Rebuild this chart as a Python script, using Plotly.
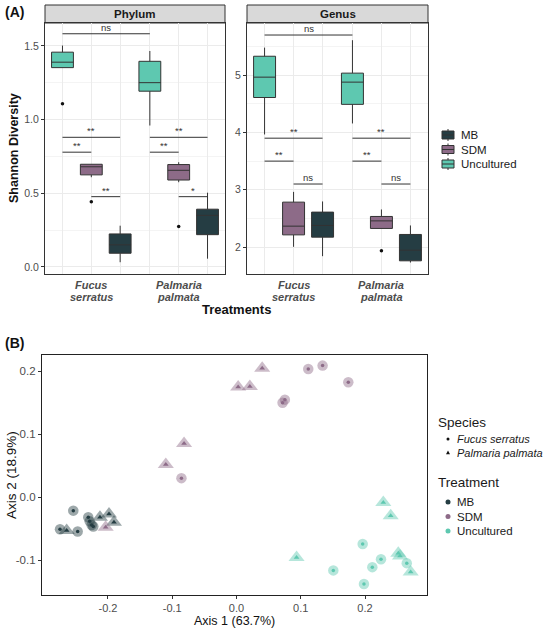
import plotly.graph_objects as go

# ---------------- DATA ----------------
treatments = ["Uncultured", "SDM", "MB"]          # dodge order left->right
legend_order = ["MB", "SDM", "Uncultured"]
species = ["Fucus serratus", "Palmaria palmata"]
colors = {"MB": "#253d43", "SDM": "#8d6b88", "Uncultured": "#5ec8b0"}

# box stats per treatment, per species: [lowerfence, q1, median, q3, upperfence]
phylum_stats = {
    "Uncultured": [[1.353, 1.353, 1.39, 1.458, 1.503], [0.96, 1.193, 1.251, 1.396, 1.466]],
    "SDM": [[0.609, 0.625, 0.68, 0.697, 0.697], [0.575, 0.59, 0.656, 0.695, 0.711]],
    "MB": [[0.032, 0.093, 0.15, 0.224, 0.28], [0.056, 0.219, 0.35, 0.392, 0.504]],
}
phylum_outliers = {"Uncultured": [[1.107], []], "SDM": [[0.443], [0.274]], "MB": [[], []]}

genus_stats = {
    "Uncultured": [[3.965, 4.61, 4.965, 5.33, 5.48], [4.157, 4.49, 4.878, 5.035, 5.61]],
    "SDM": [[2.004, 2.213, 2.365, 2.784, 2.963], [2.325, 2.325, 2.457, 2.534, 2.656]],
    "MB": [[1.841, 2.173, 2.377, 2.61, 2.796], [1.73, 1.76, 1.946, 2.22, 2.377]],
}
genus_outliers = {"Uncultured": [[], []], "SDM": [[], [1.934]], "MB": [[], []]}

# comparisons: (species1, treatment1, species2, treatment2, y, label)
phylum_comparisons = [
    (0, "Uncultured", 1, "Uncultured", 1.583, "ns"),
    (0, "Uncultured", 0, "MB", 0.88, "**"),
    (0, "Uncultured", 0, "SDM", 0.779, "**"),
    (0, "SDM", 0, "MB", 0.477, "**"),
    (1, "Uncultured", 1, "MB", 0.88, "**"),
    (1, "Uncultured", 1, "SDM", 0.779, "**"),
    (1, "SDM", 1, "MB", 0.477, "*"),
]
genus_comparisons = [
    (0, "Uncultured", 1, "Uncultured", 5.70, "ns"),
    (0, "Uncultured", 0, "MB", 3.90, "**"),
    (0, "Uncultured", 0, "SDM", 3.50, "**"),
    (0, "SDM", 0, "MB", 3.10, "ns"),
    (1, "Uncultured", 1, "MB", 3.90, "**"),
    (1, "Uncultured", 1, "SDM", 3.50, "**"),
    (1, "SDM", 1, "MB", 3.10, "ns"),
]
phylum_yticks = [0.0, 0.5, 1.0, 1.5]
genus_yticks = [2, 3, 4, 5]

# PCoA coordinates
pcoa = {
    ("MB", "Fucus serratus"): ([-0.254, -0.2307, -0.2285, -0.2254, -0.2229, -0.2747, -0.2472],
                               [-0.021, -0.0316, -0.038, -0.0438, -0.0463, -0.0506, -0.0542]),
    ("MB", "Palmaria palmata"): ([-0.2125, -0.1984, -0.1907, -0.2643],
                                 [-0.0316, -0.0264, -0.0396, -0.0526]),
    ("SDM", "Fucus serratus"): ([0.1117, 0.134, 0.174, 0.0753, 0.0717, -0.0857],
                                [0.2037, 0.209, 0.1826, 0.155, 0.150, 0.0305]),
    ("SDM", "Palmaria palmata"): ([0.04, 0.0026, 0.0208, -0.0816, -0.110, -0.2036],
                                  [0.2047, 0.175, 0.176, 0.0853, 0.0521, -0.0474]),
    ("Uncultured", "Fucus serratus"): ([0.1964, 0.2249, 0.2114, 0.1507, 0.1984, 0.265],
                                       [-0.0738, -0.098, -0.1106, -0.1158, -0.1374, -0.1043]),
    ("Uncultured", "Palmaria palmata"): ([0.2285, 0.24, 0.0935, 0.2518, 0.2545, 0.2711],
                                         [-0.008, -0.029, -0.0953, -0.0885, -0.093, -0.1185]),
}
pcoa_xticks = [-0.2, -0.1, 0.0, 0.1, 0.2]
pcoa_yticks = [-0.1, 0.0, 0.1, 0.2]

# ---------------- LAYOUT HELPERS ----------------
W, H = 555, 629
def px(x): return x / W
def py(y): return 1 - y / H

FONT = "Liberation Sans, Arial, sans-serif"
GREY = "#4d4d4d"
cat_pos = {s: i + 1 for i, s in enumerate(species)}
offset = {"Uncultured": -0.33, "SDM": 0.0, "MB": 0.33}

fig = go.Figure()
shapes, annotations = [], []

def label(x, y, text, size, color="#1a1a1a", xanchor="center", **kw):
    d = dict(xref="paper", yref="paper", x=x, y=y, text=text, showarrow=False,
             xanchor=xanchor, yanchor="middle", borderpad=0,
             font=dict(family=FONT, size=size, color=color))
    d.update(kw)
    annotations.append(d)

panels = [
    ("Phylum", "x", "y", phylum_stats, phylum_outliers, phylum_comparisons, (45, 225)),
    ("Genus", "x2", "y2", genus_stats, genus_outliers, genus_comparisons, (247, 428)),
]
for name, xa, ya, stats, outl, comps, (L, R) in panels:
    for tr in treatments:
        xs = [cat_pos[s] + offset[tr] for s in species]
        st = stats[tr]
        fig.add_trace(go.Box(
            x=xs, lowerfence=[s[0] for s in st], q1=[s[1] for s in st],
            median=[s[2] for s in st], q3=[s[3] for s in st], upperfence=[s[4] for s in st],
            width=0.25, fillcolor=colors[tr], line=dict(color="#333333", width=1),
            whiskerwidth=0, boxpoints=False, name=tr, showlegend=False,
            xaxis=xa, yaxis=ya, hoverinfo="skip"))
        ox, oy = [], []
        for s, vals in zip(species, outl[tr]):
            for v in vals:
                ox.append(cat_pos[s] + offset[tr]); oy.append(v)
        if ox:
            fig.add_trace(go.Scatter(x=ox, y=oy, mode="markers", showlegend=False,
                                     marker=dict(color="#111111", size=3.5),
                                     xaxis=xa, yaxis=ya, hoverinfo="skip"))
    for s1, t1, s2, t2, yv, lab in comps:
        x1 = cat_pos[species[s1]] + offset[t1]
        x2 = cat_pos[species[s2]] + offset[t2]
        shapes.append(dict(type="line", xref=xa, yref=ya, x0=x1, x1=x2, y0=yv, y1=yv,
                           line=dict(color="#333333", width=1)))
        annotations.append(dict(xref=xa, yref=ya, x=(x1 + x2) / 2, y=yv, text=lab,
                                showarrow=False, xanchor="center", yanchor="bottom", yshift=-1,
                                font=dict(family=FONT, size=9.5, color="#333333")))
    # strip
    shapes.append(dict(type="rect", xref="paper", yref="paper", x0=px(L), x1=px(R),
                       y0=py(23), y1=py(5), fillcolor="#d9d9d9",
                       line=dict(color="#333333", width=1), layer="below"))
    label(px((L + R) / 2), py(14), "<b>%s</b>" % name, 11.5)
    # category labels (two lines each)
    for s in species:
        for k, w in enumerate(s.split()):
            annotations.append(dict(xref=xa, yref="paper", x=cat_pos[s], y=py(285 + 12 * k),
                                    text="<b><i>%s</i></b>" % w, showarrow=False,
                                    xanchor="center", yanchor="middle", borderpad=0,
                                    font=dict(family=FONT, size=11, color=GREY)))

# Panel B points: big translucent + small solid
sym_big = {"Fucus serratus": "circle", "Palmaria palmata": "triangle-up"}
size_big = {"Fucus serratus": 10.5, "Palmaria palmata": 14}
size_small = {"Fucus serratus": 3.5, "Palmaria palmata": 5}
for (tr, sp), (xs, ys) in pcoa.items():
    fig.add_trace(go.Scatter(x=xs, y=ys, mode="markers", xaxis="x3", yaxis="y3",
                             showlegend=False, hoverinfo="skip",
                             marker=dict(symbol=sym_big[sp], size=size_big[sp],
                                         color=colors[tr], opacity=0.45, line=dict(width=0))))
for (tr, sp), (xs, ys) in pcoa.items():
    fig.add_trace(go.Scatter(x=xs, y=ys, mode="markers", xaxis="x3", yaxis="y3",
                             showlegend=False, name="%s %s" % (tr, sp),
                             marker=dict(symbol=sym_big[sp], size=size_small[sp],
                                         color=colors[tr], line=dict(width=0))))

# Legend A (manual)
for i, tr in enumerate(legend_order):
    yc = 135 + 14.5 * i
    shapes.append(dict(type="line", xref="paper", yref="paper", x0=px(448), x1=px(448),
                       y0=py(yc - 6), y1=py(yc + 6), line=dict(color="#333333", width=1)))
    shapes.append(dict(type="rect", xref="paper", yref="paper", x0=px(442), x1=px(454),
                       y0=py(yc + 4), y1=py(yc - 4), fillcolor=colors[tr],
                       line=dict(color="#333333", width=1)))
    shapes.append(dict(type="line", xref="paper", yref="paper", x0=px(442), x1=px(454),
                       y0=py(yc), y1=py(yc), line=dict(color="#333333", width=1)))
    label(px(460), py(yc), tr, 11.5, xanchor="left")

# Legend B (manual)
label(px(437), py(422), "Species", 13.5, xanchor="left")
label(px(437), py(483), "Treatment", 13.5, xanchor="left")
for i, sp in enumerate(species):
    yc = 439 + 13.5 * i
    if sym_big[sp] == "circle":
        shapes.append(dict(type="circle", xref="paper", yref="paper", x0=px(446.5), x1=px(449.5),
                           y0=py(yc + 1.5), y1=py(yc - 1.5), fillcolor="#111111",
                           line=dict(width=0)))
    else:
        shapes.append(dict(type="path", xref="paper", yref="paper",
                           path="M %f,%f L %f,%f L %f,%f Z" % (px(446), py(yc + 1.7), px(450), py(yc + 1.7),
                                                             px(448), py(yc - 2)),
                           fillcolor="#111111", line=dict(width=0)))
    label(px(456), py(yc), "<i>%s</i>" % sp, 11, xanchor="left")
for i, tr in enumerate(legend_order):
    yc = 502 + 14.5 * i
    shapes.append(dict(type="circle", xref="paper", yref="paper", x0=px(445.5), x1=px(450.5),
                       y0=py(yc + 2.5), y1=py(yc - 2.5), fillcolor=colors[tr],
                       line=dict(width=0)))
    label(px(456), py(yc), tr, 11.5, xanchor="left")

# Titles / labels
label(px(4), py(12), "<b>(A)</b>", 14, color="#111111", xanchor="left")
label(px(4), py(343), "<b>(B)</b>", 14, color="#111111", xanchor="left")
label(px(236.5), py(310), "<b>Treatments</b>", 13, color="#111111")
label(px(14), py(148), "<b>Shannon Diversity</b>", 12.5, color="#111111", textangle=-90)
label(px(234), py(620.5), "Axis 1 (63.7%)", 12.5, color="#111111")
label(px(11), py(475), "Axis 2 (18.9%)", 13.5, color="#111111", textangle=-90)

grid_x = sorted(cat_pos[s] + offset[t] for s in species for t in treatments)
xa_common = dict(range=[0.47, 2.53], tickvals=grid_x, ticktext=[""] * len(grid_x),
                 showgrid=True, gridcolor="#ebebeb", gridwidth=1, zeroline=False,
                 showline=True, mirror=True, linecolor="#333333", linewidth=1, ticks="",
                 fixedrange=True)
ya_common = dict(showgrid=True, gridcolor="#ebebeb", zeroline=False, showline=True, mirror=True,
                 linecolor="#333333", linewidth=1, ticks="outside", ticklen=3, tickcolor="#333333",
                 tickfont=dict(family=FONT, size=10.5, color=GREY))

fig.update_layout(
    width=W, height=H, margin=dict(l=0, r=0, t=0, b=0),
    paper_bgcolor="white", plot_bgcolor="white", showlegend=False, boxmode="overlay",
    font=dict(family=FONT),
    xaxis=dict(domain=[px(45), px(225)], anchor="y", **xa_common),
    yaxis=dict(domain=[py(274), py(23)], anchor="x", range=[-0.048, 1.656],
               tickvals=phylum_yticks, ticktext=["%.1f" % v for v in phylum_yticks],
               minor=dict(tickvals=[0.25, 0.75, 1.25], showgrid=True, gridcolor="#f4f4f4"),
               **ya_common),
    xaxis2=dict(domain=[px(247), px(428)], anchor="y2", **xa_common),
    yaxis2=dict(domain=[py(274), py(23)], anchor="x2", range=[1.53, 5.91],
                tickvals=genus_yticks, ticktext=[str(v) for v in genus_yticks],
                minor=dict(tickvals=[2.5, 3.5, 4.5, 5.5], showgrid=True, gridcolor="#f4f4f4"),
                **ya_common),
    xaxis3=dict(domain=[px(42), px(427)], anchor="y3", range=[-0.3027, 0.2965],
                tickvals=pcoa_xticks, ticktext=["%.1f" % v for v in pcoa_xticks],
                showgrid=False, zeroline=False, showline=True, mirror=True,
                linecolor="#222222", linewidth=1.2, ticks="outside", ticklen=3,
                tickcolor="#333333", tickfont=dict(family=FONT, size=11, color=GREY)),
    yaxis3=dict(domain=[py(595), py(355)], anchor="x3", range=[-0.1548, 0.2258],
                tickvals=pcoa_yticks, ticktext=["%.1f" % v for v in pcoa_yticks],
                showgrid=False, zeroline=False, showline=True, mirror=True,
                linecolor="#222222", linewidth=1.2, ticks="outside", ticklen=3,
                tickcolor="#333333", tickfont=dict(family=FONT, size=11.5, color=GREY)),
    shapes=shapes, annotations=annotations,
)

fig.write_html("out.html")
